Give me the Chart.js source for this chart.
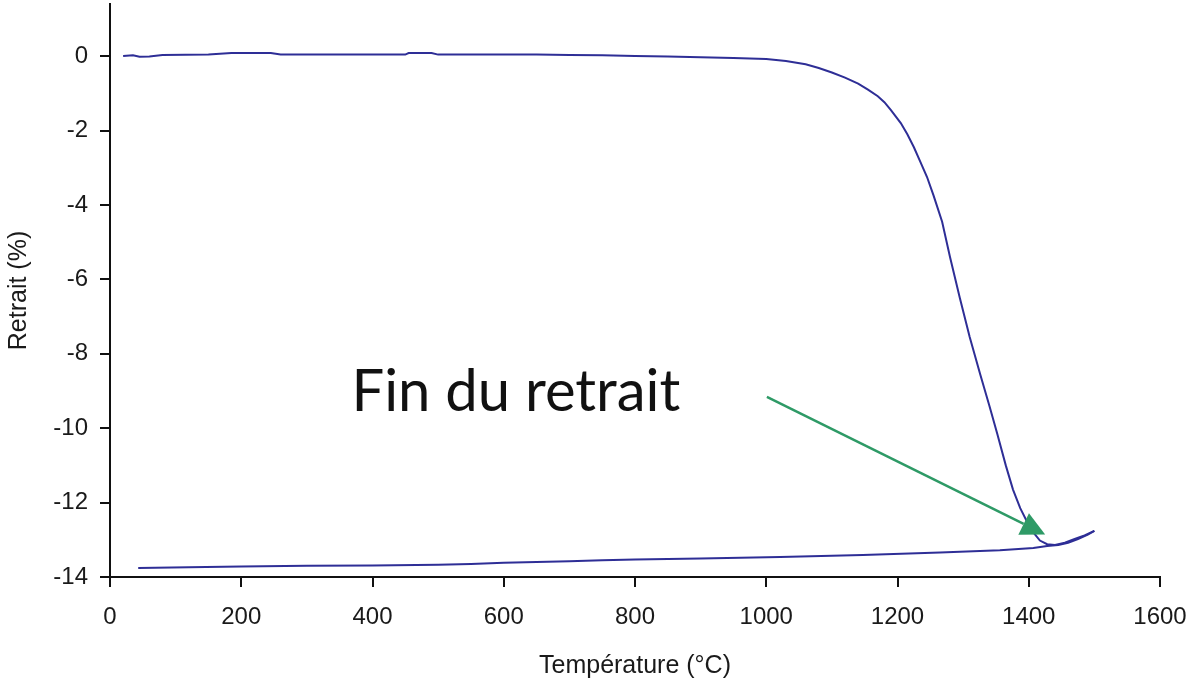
<!DOCTYPE html>
<html>
<head>
<meta charset="utf-8">
<title>Retrait - dilatométrie</title>
<script src="https://cdn.jsdelivr.net/npm/chart.js@4/dist/chart.umd.min.js"></script>
<style>
  html, body { margin: 0; padding: 0; background: #fff; }
  #wrap { width: 1192px; height: 685px; }
</style>
</head>
<body>
<div id="wrap"><canvas id="chartRetrait"></canvas></div>
<script>
// montée en température
const heatT = [20, 35, 45, 60, 80, 150, 185, 245, 260, 450, 455, 490, 500, 650, 700, 750, 800, 850, 900, 950,
  1000, 1030, 1060, 1080, 1100, 1120, 1140, 1155, 1170, 1180, 1190, 1205, 1215, 1225, 1235, 1245, 1255, 1268,
  1280, 1295, 1310, 1326, 1340, 1352, 1365, 1376, 1387, 1397, 1407, 1417, 1428, 1440, 1455, 1470, 1485, 1500];
const heatR = [0.0, 0.02, -0.02, -0.01, 0.03, 0.04, 0.08, 0.08, 0.04, 0.04, 0.08, 0.08, 0.04, 0.04, 0.03, 0.02, 0.0, -0.01, -0.03, -0.05,
  -0.08, -0.13, -0.22, -0.32, -0.44, -0.58, -0.74, -0.9, -1.08, -1.24, -1.45, -1.8, -2.1, -2.45, -2.85, -3.25, -3.75, -4.45,
  -5.4, -6.5, -7.55, -8.55, -9.4, -10.15, -11.0, -11.65, -12.15, -12.5, -12.8, -13.02, -13.12, -13.14, -13.08, -12.98, -12.88, -12.76];

// refroidissement
const coolT = [1500, 1490, 1475, 1460, 1445, 1428, 1407, 1356, 1265, 1147, 1021, 900, 800, 750, 700, 650, 600,
  550, 500, 400, 300, 200, 120, 43];
const coolR = [-12.76, -12.86, -12.98, -13.08, -13.14, -13.17, -13.22, -13.28, -13.34, -13.41, -13.46, -13.5, -13.53, -13.55, -13.58, -13.6, -13.62,
  -13.65, -13.67, -13.69, -13.7, -13.72, -13.74, -13.76];

const xTicks = [0, 200, 400, 600, 800, 1000, 1200, 1400, 1600];
const yTicks = [0, -2, -4, -6, -8, -10, -12, -14];

const toPoints = (xs, ys) => xs.map((x, i) => ({ x, y: ys[i] }));

// pas de marge automatique autour des axes
const noPad = s => { s.paddingTop = 0; s.paddingBottom = 0; s.paddingLeft = 0; s.paddingRight = 0; };

// flèche + texte "Fin du retrait"
const annotation = {
  id: 'finRetrait',
  afterDatasetsDraw(chart) {
    const { ctx, scales: { x, y } } = chart;
    const x0 = x.getPixelForValue(1001), y0 = y.getPixelForValue(-9.16);
    const x1 = x.getPixelForValue(1425), y1 = y.getPixelForValue(-12.86);
    const ang = Math.atan2(y1 - y0, x1 - x0);
    const head = 24, half = 12;
    ctx.save();
    ctx.strokeStyle = '#2e9a66';
    ctx.fillStyle = '#2e9a66';
    ctx.lineWidth = 2.5;
    ctx.beginPath();
    ctx.moveTo(x0, y0);
    ctx.lineTo(x1 - head * Math.cos(ang), y1 - head * Math.sin(ang));
    ctx.stroke();
    ctx.beginPath();
    ctx.moveTo(x1, y1);
    ctx.lineTo(x1 - head * Math.cos(ang) + half * Math.sin(ang), y1 - head * Math.sin(ang) - half * Math.cos(ang));
    ctx.lineTo(x1 - head * Math.cos(ang) - half * Math.sin(ang), y1 - head * Math.sin(ang) + half * Math.cos(ang));
    ctx.closePath();
    ctx.fill();

    ctx.fillStyle = '#111';
    ctx.font = '58px Lato';
    ctx.textBaseline = 'alphabetic';
    ctx.textAlign = 'left';
    ctx.fillText('Fin du retrait', x.getPixelForValue(368), y.getPixelForValue(-9.55));
    ctx.restore();
  }
};

const lineStyle = {
  showLine: true,
  borderColor: '#2e2e96',
  borderWidth: 2,
  pointRadius: 0,
  tension: 0
};

const tickFont = { family: 'Liberation Sans, Arial', size: 24 };
const titleFont = { family: 'Liberation Sans, Arial', size: 25 };

new Chart(document.getElementById('chartRetrait'), {
  type: 'scatter',
  data: {
    datasets: [
      { label: 'chauffe', data: toPoints(heatT, heatR), ...lineStyle },
      { label: 'refroidissement', data: toPoints(coolT, coolR), ...lineStyle }
    ]
  },
  options: {
    responsive: true,
    maintainAspectRatio: false,
    animation: false,
    layout: { padding: { top: 4, right: 32, left: 0, bottom: 0 } },
    plugins: { legend: { display: false }, tooltip: { enabled: false } },
    scales: {
      x: {
        type: 'linear',
        min: 0, max: 1600,
        afterBuildTicks: s => { s.ticks = xTicks.map(v => ({ value: v })); },
        afterFit: s => { s.height = 108; noPad(s); },
        border: { display: true, color: '#111', width: 2 },
        grid: { drawOnChartArea: false, drawTicks: true, tickLength: 10, color: '#111', lineWidth: 2 },
        ticks: { padding: 16, color: '#1a1a1a', font: tickFont, maxRotation: 0, callback: v => String(v) },
        title: { display: true, text: 'Température (°C)', color: '#1a1a1a', font: titleFont }
      },
      y: {
        type: 'linear',
        min: -14, max: 1.4,
        afterBuildTicks: s => { s.ticks = yTicks.map(v => ({ value: v })); },
        afterFit: s => { s.width = 110; noPad(s); },
        border: { display: true, color: '#111', width: 2 },
        grid: { drawOnChartArea: false, drawTicks: true, tickLength: 10, color: '#111', lineWidth: 2 },
        ticks: { padding: 12, color: '#1a1a1a', font: tickFont, callback: v => String(v) },
        title: { display: true, text: 'Retrait (%)', color: '#1a1a1a', font: titleFont }
      }
    }
  },
  plugins: [annotation]
});
</script>
</body>
</html>
